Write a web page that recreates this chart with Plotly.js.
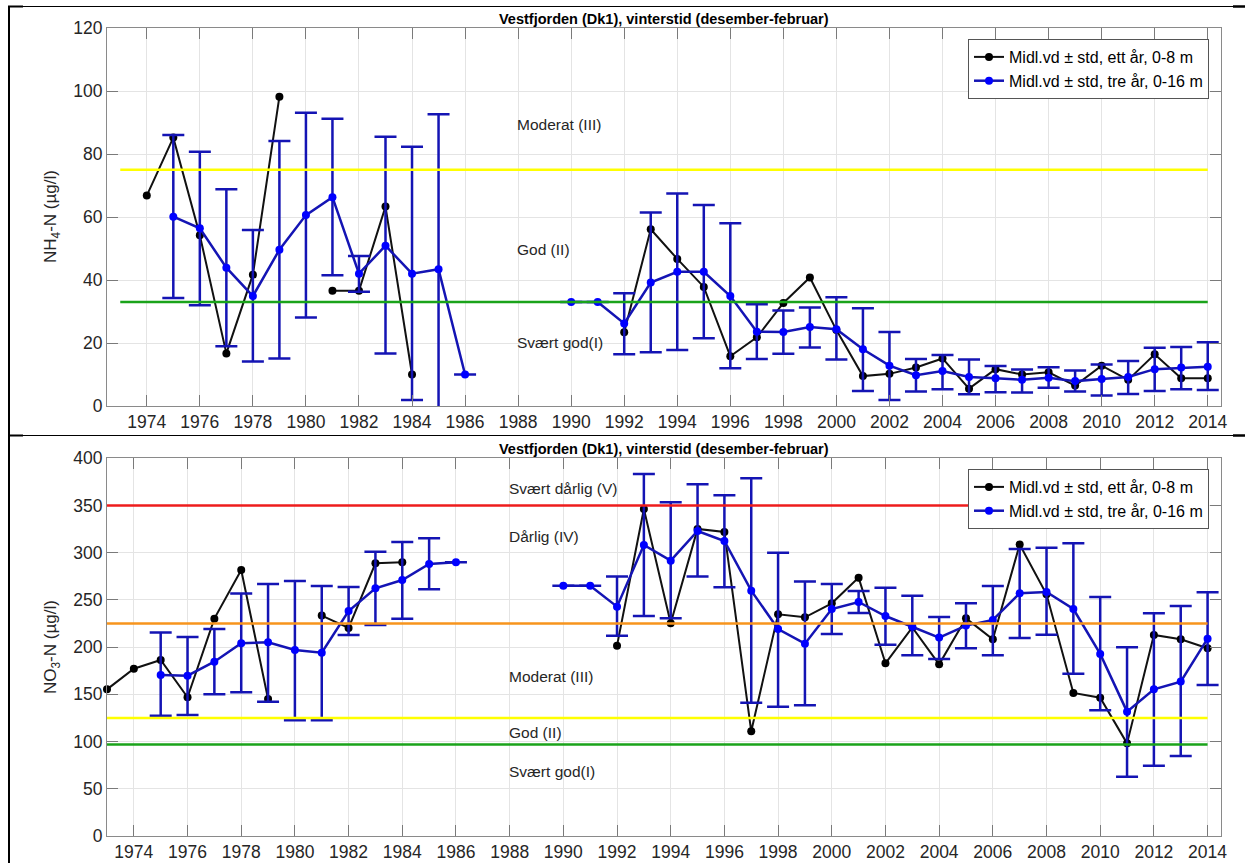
<!DOCTYPE html>
<html>
<head>
<meta charset="utf-8">
<script src="https://cdn.plot.ly/plotly-3.0.1.min.js"></script>
<style>html,body{margin:0;padding:0;background:#fff;}#chart{width:1245px;height:863px;}</style>
</head>
<body>
<div id="chart"></div>
<script>
// ---------- data (years 1973..2014) ----------
const years = [];
for (let y = 1973; y <= 2014; y++) years.push(y);

// NH4-N, ett år 0-8 m (black)
const nh4Ett = [null, 66.8, 85.2, 54.2, 16.7, 41.7, 98.2, null, 36.6, 36.6, 63.3, 10.0,
  null, null, null, null, null, null, null,
  23.4, 56.1, 46.7, 37.8, 15.8, 21.8, 32.7, 40.8, 24.1, 9.5, 10.2, 12.2, 15.1, 5.5, 11.7, 10.0, 10.7, 6.5, 12.8, 8.3, 16.4, 8.8, 8.8];
// NH4-N, tre år 0-16 m (blue) mean, upper, lower
const nh4Tre = [null, null, 60.1, 56.4, 43.9, 34.9, 49.6, 60.6, 66.3, 42.0, 50.9, 42.0, 43.4, 10.0,
  null, null, null,
  33.0, 33.0, 26.2, 39.2, 42.6, 42.6, 34.9, 23.6, 23.5, 25.1, 24.4, 18.0, 12.8, 9.8, 11.1, 9.2, 8.8, 8.3, 9.0, 7.9, 8.6, 9.2, 11.7, 12.2, 12.5];
const nh4TreUpper = [null, null, 86.0, 80.7, 68.8, 55.9, 84.1, 93.1, 91.2, 47.6, 85.5, 82.3, 92.6, 10.0,
  null, null, null,
  33.0, 33.0, 35.8, 61.4, 67.5, 63.8, 58.0, 32.3, 30.3, 31.3, 34.5, 31.0, 23.5, 14.9, 16.2, 14.8, 12.7, 11.6, 12.3, 11.3, 13.2, 14.3, 18.5, 18.7, 20.2];
const nh4TreLower = [null, null, 34.3, 32.0, 19.0, 14.1, 15.1, 28.1, 41.5, 36.3, 16.7, 1.9, -3.0, 10.0,
  null, null, null,
  33.0, 33.0, 16.4, 17.1, 17.8, 21.5, 12.0, 14.9, 16.6, 18.6, 14.8, 4.8, 1.9, 4.6, 5.3, 3.7, 4.4, 4.3, 5.8, 4.6, 3.3, 3.8, 4.8, 5.3, 5.1];

// NO3-N, ett år 0-8 m (black)
const no3Ett = [155.3, 177.2, 186.4, 146.9, 230.2, 281.7, 145.1, null, 233.4, 220.3, 288.8, 289.9,
  null, null, null, null, null, null, null,
  201.6, 346.3, 225.2, 325.2, 322.0, 110.9, 234.8, 231.6, 246.4, 273.6, 182.9, 221.0, 181.8, 230.5, 208.3, 308.6, 256.0, 151.5, 146.5, 98.1, 212.9, 208.3, 198.8];
// NO3-N, tre år 0-16 m (blue)
const no3Tre = [null, null, 170.5, 169.8, 184.6, 204.1, 205.1, 197.0, 194.2, 238.3, 262.3, 271.1, 288.1, 289.9,
  null, null, null,
  265.1, 265.1, 242.9, 308.2, 291.6, 323.0, 312.4, 259.8, 219.2, 203.7, 240.4, 247.8, 233.0, 221.7, 210.1, 222.8, 228.8, 257.0, 258.4, 240.4, 192.8, 131.7, 155.3, 163.5, 209.0];
const no3TreUpper = [null, null, 215.4, 210.8, 219.2, 256.7, 266.9, 270.1, 264.8, 263.7, 301.1, 311.4, 315.3, 289.9,
  null, null, null,
  265.1, 265.1, 274.7, 383.4, 353.4, 372.5, 360.8, 378.8, 300.1, 269.4, 266.9, 259.5, 263.0, 254.5, 231.9, 246.4, 264.8, 304.0, 305.4, 310.0, 253.1, 199.8, 235.8, 243.6, 258.1];
const no3TreLower = [null, null, 127.4, 128.2, 150.0, 152.2, 142.3, 122.5, 122.5, 212.9, 223.5, 230.2, 261.3, 289.9,
  null, null, null,
  265.1, 265.1, 212.2, 233.0, 230.5, 274.7, 263.4, 141.2, 137.0, 138.4, 213.9, 236.2, 202.6, 191.4, 187.5, 198.8, 191.4, 209.7, 213.2, 171.9, 133.1, 62.8, 74.5, 84.7, 159.9];

// class limits and labels
const nh4Limits = [75, 33];
const nh4LimitColors = ['#ffff00', '#1aa31a'];
const nh4Labels = ['Moderat (III)', 'God (II)', 'Svært god(I)'];
const nh4LabelY = [89.5, 49.8, 20];

const no3Limits = [350, 225, 125, 97];
const no3LimitColors = ['#ee1c1c', '#f7941d', '#ffff00', '#1aa31a'];
const no3Labels = ['Svært dårlig (V)', 'Dårlig (IV)', 'Moderat (III)', 'God (II)', 'Svært god(I)'];
const no3LabelY = [368, 317.6, 168.6, 109.3, 68.8];

const titleText = 'Vestfjorden (Dk1), vinterstid (desember-februar)';
const legendNames = ['Midl.vd \u00b1 std, ett år, 0-8 m', 'Midl.vd \u00b1 std, tre år, 0-16 m'];
const limitX = [1973, 2014];
const labelX = 1988;

// ---------- helpers ----------
const W = 1245, H = 863;
const px = x => x / W;
const py = y => 1 - y / H;
const diff = (a, b) => a.map((v, i) => (v === null || b[i] === null) ? null : +(v - b[i]).toFixed(3));

const FONT = 'Liberation Sans, Arial, Helvetica, sans-serif';
const BLUE_M = '#0000ff';
const BLUE_L = '#1414b4';

function blackTrace(vals, xa, ya, leg) {
  return {
    x: years, y: vals, xaxis: xa, yaxis: ya, legend: leg,
    type: 'scatter', mode: 'lines+markers', name: legendNames[0],
    connectgaps: false, cliponaxis: false,
    line: {color: '#111111', width: 2},
    marker: {color: '#000000', size: 8}
  };
}
function blueTrace(mean, upper, lower, xa, ya, leg) {
  return {
    x: years, y: mean, xaxis: xa, yaxis: ya, legend: leg,
    type: 'scatter', mode: 'lines+markers', name: legendNames[1],
    connectgaps: false,
    line: {color: BLUE_L, width: 2.5},
    marker: {color: BLUE_M, size: 8},
    error_y: {type: 'data', symmetric: false,
      array: diff(upper, mean), arrayminus: diff(mean, lower),
      color: BLUE_L, thickness: 2.5, width: 11, visible: true}
  };
}

const data = [
  blackTrace(nh4Ett, 'x', 'y', 'legend'),
  blueTrace(nh4Tre, nh4TreUpper, nh4TreLower, 'x', 'y', 'legend'),
  blackTrace(no3Ett, 'x2', 'y2', 'legend2'),
  blueTrace(no3Tre, no3TreUpper, no3TreLower, 'x2', 'y2', 'legend2')
];

const shapes = [];
nh4Limits.forEach((v, i) => shapes.push({type: 'line', xref: 'x', yref: 'y', x0: limitX[0], x1: limitX[1], y0: v, y1: v,
  line: {color: nh4LimitColors[i], width: 2.5}, layer: 'above'}));
no3Limits.forEach((v, i) => shapes.push({type: 'line', xref: 'x2', yref: 'y2', x0: limitX[0], x1: limitX[1], y0: v, y1: v,
  line: {color: no3LimitColors[i], width: 2.5}, layer: 'above'}));

// page frame lines
function pline(x0, y0, x1, y1, w) {
  shapes.push({type: 'line', xref: 'paper', yref: 'paper', x0: px(x0), x1: px(x1), y0: py(y0), y1: py(y1),
    line: {color: '#000', width: w}, layer: 'above'});
}
pline(9, 6, 9, 863, 2);
pline(8, 6.5, 1233, 6.5, 1.2);
pline(8, 6.5, 23, 6.5, 2);
pline(1233, 6.5, 1245, 6.5, 2.5);
pline(8, 435.5, 1233, 435.5, 1.2);
pline(8, 435.5, 23, 435.5, 2);
pline(1233, 435.5, 1245, 435.5, 2.5);

const annotations = [];
const labFont = {family: FONT, size: 15.5, color: '#262626'};
nh4Labels.forEach((t, i) => annotations.push({xref: 'x', yref: 'y', x: labelX, y: nh4LabelY[i], text: t,
  showarrow: false, xanchor: 'left', yanchor: 'middle', xshift: -3, font: labFont}));
no3Labels.forEach((t, i) => annotations.push({xref: 'x2', yref: 'y2', x: labelX, y: no3LabelY[i], text: t,
  showarrow: false, xanchor: 'left', yanchor: 'middle', xshift: -3, font: labFont}));
[19, 449].forEach(yy => annotations.push({xref: 'paper', yref: 'paper', x: px(664), y: py(yy), text: '<b>' + titleText + '</b>',
  showarrow: false, xanchor: 'center', yanchor: 'middle', font: {family: FONT, size: 14.5, color: '#000'}}));
annotations.push({xref: 'paper', yref: 'paper', x: px(52), y: py(217), text: 'NH<sub>4</sub>-N (µg/l)', textangle: -90,
  showarrow: false, xanchor: 'center', yanchor: 'middle', font: {family: FONT, size: 17, color: '#262626'}});
annotations.push({xref: 'paper', yref: 'paper', x: px(52), y: py(647), text: 'NO<sub>3</sub>-N (µg/l)', textangle: -90,
  showarrow: false, xanchor: 'center', yanchor: 'middle', font: {family: FONT, size: 17, color: '#262626'}});

const axBase = {
  showline: true, linecolor: '#8a8a8a', linewidth: 1, mirror: 'ticks',
  ticks: 'inside', ticklen: 11, tickcolor: '#7a7a7a', tickwidth: 1,
  showgrid: true, gridcolor: '#e4e4e4', gridwidth: 1, zeroline: false,
  tickfont: {family: FONT, size: 17.5, color: '#262626'}, fixedrange: true
};
const xTicks = {tickmode: 'linear', tick0: 1974, dtick: 2};
const legBase = {xanchor: 'right', yanchor: 'top', bgcolor: '#ffffff', bordercolor: '#555555', borderwidth: 1,
  font: {family: FONT, size: 16, color: '#000'}, tracegroupgap: 0};

const layout = {
  width: W, height: H,
  margin: {l: 0, r: 0, t: 0, b: 0, pad: 0},
  paper_bgcolor: '#ffffff', plot_bgcolor: '#ffffff',
  showlegend: true,
  xaxis: Object.assign({}, axBase, xTicks, {domain: [px(107), px(1221)], range: [1972.5, 2014.5], anchor: 'y'}),
  yaxis: Object.assign({}, axBase, {domain: [py(406), py(28)], range: [0, 120], dtick: 20, tick0: 0, anchor: 'x'}),
  xaxis2: Object.assign({}, axBase, xTicks, {domain: [px(107), px(1221)], range: [1973, 2014.5], anchor: 'y2'}),
  yaxis2: Object.assign({}, axBase, {domain: [py(836), py(458.3)], range: [0, 400], dtick: 50, tick0: 0, anchor: 'x2'}),
  legend: Object.assign({}, legBase, {x: px(1209), y: py(39)}),
  legend2: Object.assign({}, legBase, {x: px(1209), y: py(469)}),
  shapes: shapes,
  annotations: annotations
};

Plotly.newPlot('chart', data, layout, {displayModeBar: false, staticPlot: true});
</script>
</body>
</html>
